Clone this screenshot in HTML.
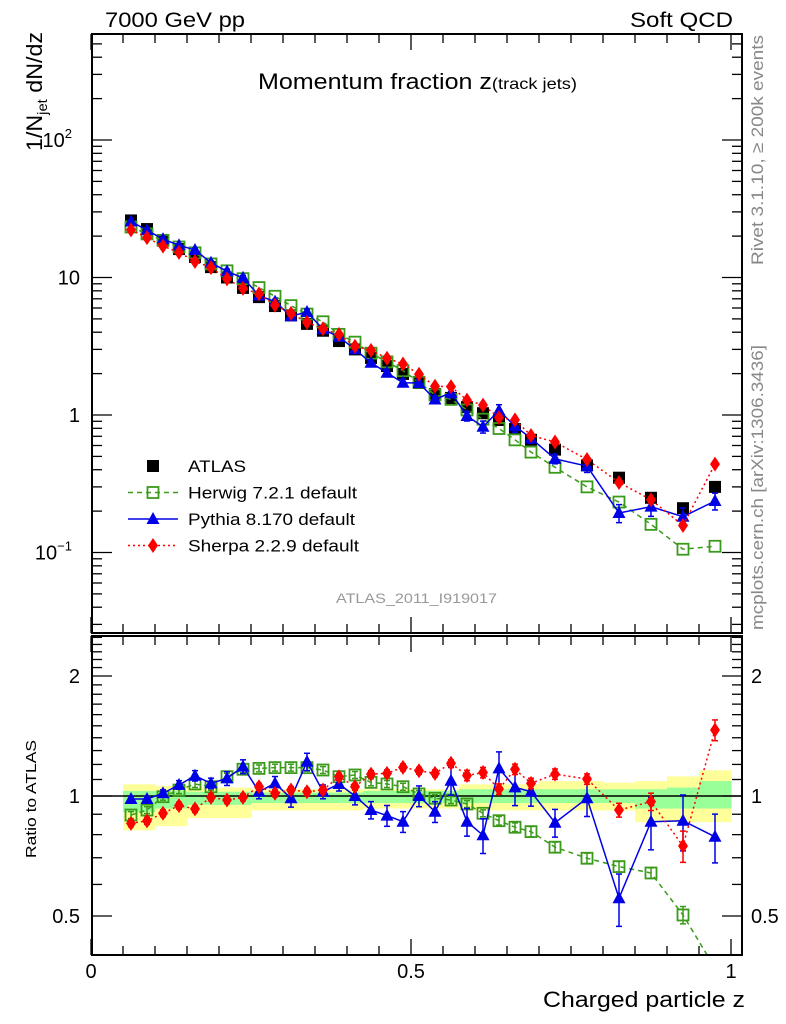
<!DOCTYPE html>
<html><head><meta charset="utf-8"><style>
body{margin:0;background:#fff;}
svg{display:block;font-family:"Liberation Sans",sans-serif;}
</style></head><body>
<svg id="c" width="786" height="1024" viewBox="0 0 786 1024">
<defs>
<clipPath id="cm"><rect x="92" y="33" width="650" height="600"/></clipPath>
<clipPath id="cr"><rect x="92" y="636" width="650" height="319"/></clipPath>
</defs>
<g id="bands" clip-path="url(#cr)"></g>
<g id="marks"></g>
<g id="axes"></g>
<text x="105" y="27" font-size="21" textLength="140" lengthAdjust="spacingAndGlyphs">7000 GeV pp</text>
<text x="630" y="27" font-size="21" textLength="103" lengthAdjust="spacingAndGlyphs">Soft QCD</text>
<text x="258" y="89" font-size="22" textLength="319" lengthAdjust="spacingAndGlyphs">Momentum fraction z<tspan font-size="16">(track jets)</tspan></text>
<text transform="translate(42,151) rotate(-90)" font-size="22" textLength="119" lengthAdjust="spacingAndGlyphs">1/N<tspan font-size="14" dy="5">jet</tspan><tspan dy="-5"> dN/dz</tspan></text>
<text transform="translate(36,858) rotate(-90)" font-size="15" textLength="118" lengthAdjust="spacingAndGlyphs">Ratio to ATLAS</text>
<text x="543" y="1007" font-size="22" textLength="202" lengthAdjust="spacingAndGlyphs">Charged particle z</text>
<text transform="translate(763,265) rotate(-90)" font-size="17" fill="#888" textLength="230" lengthAdjust="spacingAndGlyphs">Rivet 3.1.10, ≥ 200k events</text>
<text transform="translate(763,630) rotate(-90)" font-size="17" fill="#888" textLength="285" lengthAdjust="spacingAndGlyphs">mcplots.cern.ch [arXiv:1306.3436]</text>
<text x="336" y="603" font-size="14" fill="#999" textLength="161" lengthAdjust="spacingAndGlyphs">ATLAS_2011_I919017</text>
<g id="legend" font-size="17"></g>
</svg>
<script>
const zc=[0.0625,0.0875,0.1125,0.1375,0.1625,0.1875,0.2125,0.2375,0.2625,0.2875,0.3125,0.3375,0.3625,0.3875,0.4125,0.4375,0.4625,0.4875,0.5125,0.5375,0.5625,0.5875,0.6125,0.6375,0.6625,0.6875,0.725,0.775,0.825,0.875,0.925,0.975];
const binHalf=[0.0125,0.0125,0.0125,0.0125,0.0125,0.0125,0.0125,0.0125,0.0125,0.0125,0.0125,0.0125,0.0125,0.0125,0.0125,0.0125,0.0125,0.0125,0.0125,0.0125,0.0125,0.0125,0.0125,0.0125,0.0125,0.0125,0.025,0.025,0.025,0.025,0.025,0.025];
const atlas=[26,22.5,18.7,16.1,14.1,11.9,10,8.4,7.2,6.2,5.3,4.6,4.1,3.45,3.0,2.6,2.27,1.99,1.71,1.42,1.33,1.14,1.03,0.92,0.79,0.66,0.56,0.43,0.35,0.25,0.21,0.30];
const herwigR=[0.896,0.922,0.996,1.035,1.072,1.055,1.118,1.167,1.173,1.178,1.178,1.178,1.162,1.118,1.129,1.082,1.072,1.055,1.012,0.987,0.977,0.955,0.905,0.867,0.835,0.814,0.744,0.698,0.665,0.641,0.503,0.37];
const pythiaR=[0.983,0.983,1.016,1.066,1.124,1.076,1.107,1.185,1.025,1.076,0.987,1.219,1.025,1.072,1.0,0.922,0.893,0.862,1.0,0.913,1.092,0.862,0.797,1.173,1.051,1.025,0.857,0.987,0.554,0.862,0.867,0.79];
const sherpaR=[0.854,0.866,0.905,0.946,0.928,0.992,0.977,0.992,1.055,1.016,1.035,1.025,1.035,1.118,1.055,1.135,1.14,1.18,1.157,1.14,1.208,1.126,1.145,1.041,1.167,1.076,1.135,1.103,0.922,0.968,0.749,1.464];
const herwigE=[0.02,0.02,0.02,0.02,0.02,0.02,0.02,0.02,0.02,0.02,0.02,0.02,0.02,0.02,0.02,0.02,0.02,0.02,0.02,0.02,0.02,0.02,0.02,0.025,0.025,0.03,0.03,0.03,0.03,0.03,0.05,0.05];
const pythiaE=[0.015,0.015,0.02,0.025,0.03,0.03,0.04,0.04,0.04,0.04,0.05,0.05,0.04,0.04,0.05,0.05,0.06,0.06,0.06,0.06,0.08,0.08,0.1,0.1,0.1,0.08,0.08,0.1,0.15,0.15,0.16,0.14];
const sherpaE=[0.02,0.02,0.02,0.02,0.02,0.02,0.02,0.02,0.02,0.02,0.02,0.02,0.02,0.02,0.02,0.02,0.02,0.02,0.02,0.02,0.02,0.03,0.03,0.03,0.03,0.03,0.03,0.03,0.04,0.05,0.09,0.06];
const yelLo=[0.82,0.82,0.84,0.84,0.88,0.88,0.88,0.88,0.92,0.92,0.92,0.92,0.92,0.92,0.92,0.93,0.93,0.93,0.93,0.93,0.93,0.92,0.92,0.92,0.92,0.92,0.92,0.92,0.92,0.86,0.86,0.86];
const yelHi=[1.07,1.07,1.06,1.06,1.05,1.05,1.05,1.05,1.04,1.04,1.04,1.04,1.04,1.04,1.04,1.04,1.04,1.04,1.04,1.04,1.04,1.07,1.07,1.07,1.07,1.07,1.09,1.09,1.08,1.09,1.12,1.16];
const grnLo=[0.91,0.91,0.93,0.93,0.95,0.95,0.95,0.95,0.96,0.96,0.96,0.96,0.96,0.96,0.96,0.96,0.96,0.96,0.96,0.96,0.96,0.96,0.96,0.96,0.96,0.96,0.96,0.96,0.96,0.93,0.93,0.93];
const grnHi=[1.03,1.03,1.03,1.03,1.025,1.025,1.025,1.025,1.02,1.02,1.02,1.02,1.02,1.02,1.02,1.03,1.03,1.03,1.03,1.03,1.03,1.04,1.04,1.04,1.04,1.04,1.04,1.04,1.04,1.04,1.05,1.09];

const NS="http://www.w3.org/2000/svg";
const X=z=>91+z*640;
const Ym=v=>415-137.5*Math.log10(v);
const Yr=r=>796-120*Math.log2(r);
function mk(tag,attrs,parent){const e=document.createElementNS(NS,tag);for(const k in attrs)e.setAttribute(k,attrs[k]);parent.appendChild(e);return e;}
const bands=document.getElementById('bands'),marks=document.getElementById('marks'),axes=document.getElementById('axes'),leg=document.getElementById('legend');
const colH='#3a9a1a',colP='#0000e6',colS='#ff0000';

for(let i=0;i<zc.length;i++){
  const x0=X(zc[i]-binHalf[i]),w=binHalf[i]*2*640;
  const y=mk('rect',{x:x0,y:Yr(yelHi[i]),width:w+0.5,height:Yr(yelLo[i])-Yr(yelHi[i]),fill:'#ffff99'},bands);
  
  
  const g=mk('rect',{x:x0,y:Yr(grnHi[i]),width:w+0.5,height:Yr(grnLo[i])-Yr(grnHi[i]),fill:'#99ff99'},bands);
  
  
}
const ref=mk('line',{x1:92,x2:742,y1:Yr(1),y2:Yr(1),stroke:'#000','stroke-width':1.5},bands);



function marker(type,x,y,col,parent){
  let e;
  if(type==='sq') e=mk('rect',{x:x-6,y:y-6,width:12,height:12,fill:'#000'},parent);
  else if(type==='osq') e=mk('rect',{x:x-5.5,y:y-5.5,width:11,height:11,fill:'none',stroke:col,'stroke-width':1.8},parent);
  else if(type==='tri') e=mk('path',{d:`M${x},${y-7}L${x+6.5},${y+5}L${x-6.5},${y+5}Z`,fill:col},parent);
  else e=mk('path',{d:`M${x},${y-7.5}L${x+5},${y}L${x},${y+7.5}L${x-5},${y}Z`,fill:col},parent);
  return e;
}
function series(name,vals,errs,Y,col,type,dash,clip){
  const g=mk('g',{'clip-path':clip},marks);
  
  
  let d='';
  vals.forEach((v,i)=>{d+=(i?'L':'M')+X(zc[i]).toFixed(1)+','+Y(v).toFixed(1);});
  if(col) mk('path',{d:d,fill:'none',stroke:col,'stroke-width':1.5,'stroke-dasharray':dash},g);
  vals.forEach((v,i)=>{
    if(errs){const x=X(zc[i]);const a=Y(v*(1+errs[i])),b=Y(v*(1-errs[i]));
      mk('line',{x1:x,x2:x,y1:a,y2:b,stroke:col,'stroke-width':1.5},g);
      mk('line',{x1:x-3,x2:x+3,y1:a,y2:a,stroke:col,'stroke-width':1.5},g);
      mk('line',{x1:x-3,x2:x+3,y1:b,y2:b,stroke:col,'stroke-width':1.5},g);}
    const m=marker(type,X(zc[i]),Y(v),col,g);
    
    
  });
}
const herwig=atlas.map((a,i)=>a*herwigR[i]),pythia=atlas.map((a,i)=>a*pythiaR[i]),sherpa=atlas.map((a,i)=>a*sherpaR[i]);
series('atlas-data',atlas,null,Ym,null,'sq','', 'url(#cm)');
series('herwig-series',herwig,null,Ym,colH,'osq','5,4','url(#cm)');
series('pythia-series',pythia,pythiaE,Ym,colP,'tri','','url(#cm)');
series('sherpa-series',sherpa,null,Ym,colS,'dia','2,3','url(#cm)');
series('herwig-ratio',herwigR,herwigE,Yr,colH,'osq','5,4','url(#cr)');
series('pythia-ratio',pythiaR,pythiaE,Yr,colP,'tri','','url(#cr)');
series('sherpa-ratio',sherpaR,sherpaE,Yr,colS,'dia','2,3','url(#cr)');

const f1=mk('rect',{x:92,y:34,width:650,height:599,fill:'none',stroke:'#000','stroke-width':2},axes);


const f2=mk('rect',{x:92,y:636,width:650,height:319,fill:'none',stroke:'#000','stroke-width':2},axes);


for(let k=0;k<=20;k++){const z=k*0.05,x=X(z);const L=(k%10===0)?16:9;
  [[34,1],[633,-1],[636,1],[955,-1]].forEach(([y,s])=>mk('line',{x1:x,x2:x,y1:y,y2:y+s*L,stroke:'#000','stroke-width':1.3},axes));}
[['0',0],['0.5',0.5],['1',1]].forEach(([t,z])=>{const e=mk('text',{x:X(z),y:978,'font-size':20,'text-anchor':'middle'},axes);e.textContent=t;
  
  });
for(let d=-2;d<=2;d++)for(let m=1;m<=9;m++){const v=m*Math.pow(10,d),y=Ym(v);if(y<34||y>633)continue;const L=m===1?20:10;
  mk('line',{x1:92,x2:92+L,y1:y,y2:y,stroke:'#000','stroke-width':1.3},axes);
  mk('line',{x1:742,x2:742-L,y1:y,y2:y,stroke:'#000','stroke-width':1.3},axes);}
[['10','2',100],['10','',10],['1','',1],['10','−1',0.1]].forEach(([b,s,v])=>{const e=mk('text',{x:s?72:80,y:Ym(v)+7,'font-size':20,'text-anchor':'end'},axes);
  e.textContent=b;
  if(s){const t=mk('tspan',{'font-size':13,dy:-9},e);t.textContent=s;}
  
  });
for(let k=4;k<=25;k++){const r=k/10,y=Yr(r);if(y<636||y>955)continue;const L=(k===5||k===10||k===20)?20:10;
  mk('line',{x1:92,x2:92+L,y1:y,y2:y,stroke:'#000','stroke-width':1.3},axes);
  mk('line',{x1:742,x2:742-L,y1:y,y2:y,stroke:'#000','stroke-width':1.3},axes);}
[['2',2],['1',1],['0.5',0.5]].forEach(([t,r])=>{
  const a=mk('text',{x:80,y:Yr(r)+7,'font-size':20,'text-anchor':'end'},axes);a.textContent=t;
  
  
  const b=mk('text',{x:751,y:Yr(r)+7,'font-size':20},axes);b.textContent=t;
  
  });
const items=[['ATLAS',null,'sq','',58],['Herwig 7.2.1 default',colH,'osq','5,4',169],['Pythia 8.170 default',colP,'tri','',167],['Sherpa 2.2.9 default',colS,'dia','2,3',171]];
items.forEach(([t,c,ty,da,tl],i)=>{const y=466+i*26.5;const g=mk('g',{},leg);
  
  
  if(c)mk('line',{x1:128,x2:178,y1:y,y2:y,stroke:c,'stroke-width':1.5,'stroke-dasharray':da},g);
  marker(ty,153,y,c,g);
  const e=mk('text',{x:188,y:y+6,textLength:tl,lengthAdjust:'spacingAndGlyphs'},g);e.textContent=t;});
</script>
</body></html>
